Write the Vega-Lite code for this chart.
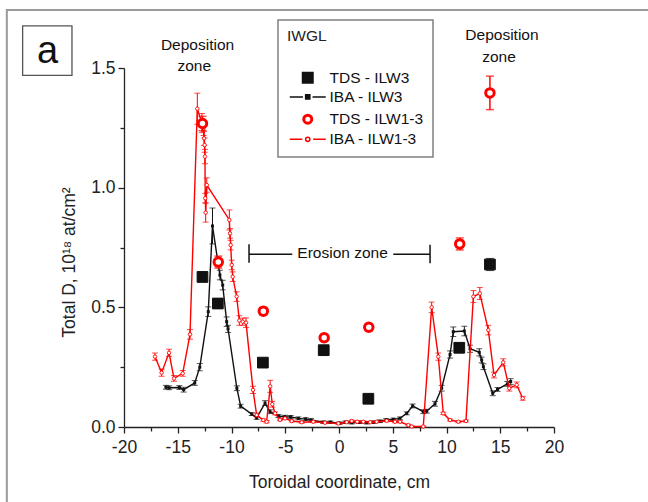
{
  "$schema": "https://vega.github.io/schema/vega-lite/v6.json",
  "width": 430,
  "height": 359,
  "autosize": {"type": "none"},
  "padding": {"left": 124, "top": 68, "right": 94, "bottom": 75},
  "background": "white",
  "config": {
    "font": "Liberation Sans",
    "view": {"stroke": null},
    "legend": {"strokeWidth": 1.5}
  },
  "datasets": {
    "iba3": [
      {"x": -16.1, "y": 0.166, "e": 0.008, "s": "IBA - ILW3"},
      {"x": -15.8, "y": 0.164, "e": 0.008, "s": "IBA - ILW3"},
      {"x": -14.85, "y": 0.165, "e": 0.008, "s": "IBA - ILW3"},
      {"x": -14.45, "y": 0.156, "e": 0.01, "s": "IBA - ILW3"},
      {"x": -13.42, "y": 0.184, "e": 0.01, "s": "IBA - ILW3"},
      {"x": -12.95, "y": 0.25, "e": 0.015, "s": "IBA - ILW3"},
      {"x": -12.16, "y": 0.482, "e": 0.02, "s": "IBA - ILW3"},
      {"x": -11.77, "y": 0.84, "e": 0.075, "s": "IBA - ILW3"},
      {"x": -11.08, "y": 0.635, "e": 0.02, "s": "IBA - ILW3"},
      {"x": -10.82, "y": 0.593, "e": 0.02, "s": "IBA - ILW3"},
      {"x": -10.45, "y": 0.44, "e": 0.02, "s": "IBA - ILW3"},
      {"x": -10.32, "y": 0.41, "e": 0.015, "s": "IBA - ILW3"},
      {"x": -9.5, "y": 0.162, "e": 0.01, "s": "IBA - ILW3"},
      {"x": -9.15, "y": 0.087, "e": 0.008, "s": "IBA - ILW3"},
      {"x": -8.12, "y": 0.054, "e": 0.006, "s": "IBA - ILW3"},
      {"x": -7.66, "y": 0.038, "e": 0.006, "s": "IBA - ILW3"},
      {"x": -6.88, "y": 0.1, "e": 0.01, "s": "IBA - ILW3"},
      {"x": -6.42, "y": 0.064, "e": 0.008, "s": "IBA - ILW3"},
      {"x": -5.64, "y": 0.046, "e": 0.006, "s": "IBA - ILW3"},
      {"x": -5.02, "y": 0.043, "e": 0.006, "s": "IBA - ILW3"},
      {"x": -4.5, "y": 0.042, "e": 0.006, "s": "IBA - ILW3"},
      {"x": -3.78, "y": 0.036, "e": 0.006, "s": "IBA - ILW3"},
      {"x": -3.1, "y": 0.033, "e": 0.006, "s": "IBA - ILW3"},
      {"x": -2.6, "y": 0.029, "e": 0.006, "s": "IBA - ILW3"},
      {"x": -1.46, "y": 0.02, "e": 0.005, "s": "IBA - ILW3"},
      {"x": -0.8, "y": 0.02, "e": 0.005, "s": "IBA - ILW3"},
      {"x": 0.05, "y": 0.016, "e": 0.005, "s": "IBA - ILW3"},
      {"x": 0.6, "y": 0.02, "e": 0.005, "s": "IBA - ILW3"},
      {"x": 1.18, "y": 0.018, "e": 0.005, "s": "IBA - ILW3"},
      {"x": 1.9, "y": 0.02, "e": 0.005, "s": "IBA - ILW3"},
      {"x": 2.58, "y": 0.018, "e": 0.005, "s": "IBA - ILW3"},
      {"x": 3.2, "y": 0.02, "e": 0.005, "s": "IBA - ILW3"},
      {"x": 3.81, "y": 0.024, "e": 0.005, "s": "IBA - ILW3"},
      {"x": 4.4, "y": 0.03, "e": 0.005, "s": "IBA - ILW3"},
      {"x": 5.05, "y": 0.032, "e": 0.005, "s": "IBA - ILW3"},
      {"x": 5.67, "y": 0.036, "e": 0.006, "s": "IBA - ILW3"},
      {"x": 6.3, "y": 0.057, "e": 0.006, "s": "IBA - ILW3"},
      {"x": 6.85, "y": 0.088, "e": 0.008, "s": "IBA - ILW3"},
      {"x": 7.84, "y": 0.064, "e": 0.008, "s": "IBA - ILW3"},
      {"x": 8.16, "y": 0.066, "e": 0.008, "s": "IBA - ILW3"},
      {"x": 8.93, "y": 0.097, "e": 0.01, "s": "IBA - ILW3"},
      {"x": 9.55, "y": 0.162, "e": 0.012, "s": "IBA - ILW3"},
      {"x": 10.33, "y": 0.303, "e": 0.015, "s": "IBA - ILW3"},
      {"x": 10.63, "y": 0.398, "e": 0.02, "s": "IBA - ILW3"},
      {"x": 11.66, "y": 0.401, "e": 0.02, "s": "IBA - ILW3"},
      {"x": 12.19, "y": 0.327, "e": 0.015, "s": "IBA - ILW3"},
      {"x": 13.05, "y": 0.312, "e": 0.015, "s": "IBA - ILW3"},
      {"x": 13.27, "y": 0.28, "e": 0.012, "s": "IBA - ILW3"},
      {"x": 13.43, "y": 0.252, "e": 0.012, "s": "IBA - ILW3"},
      {"x": 14.3, "y": 0.141, "e": 0.01, "s": "IBA - ILW3"},
      {"x": 14.75, "y": 0.157, "e": 0.008, "s": "IBA - ILW3"},
      {"x": 15.66, "y": 0.18, "e": 0.01, "s": "IBA - ILW3"},
      {"x": 15.97, "y": 0.19, "e": 0.012, "s": "IBA - ILW3"}
    ],
    "iba13": [
      {"x": -17.12, "y": 0.294, "e": 0.015, "s": "IBA - ILW1-3"},
      {"x": -16.5, "y": 0.227, "e": 0.015, "s": "IBA - ILW1-3"},
      {"x": -15.81, "y": 0.31, "e": 0.015, "s": "IBA - ILW1-3"},
      {"x": -15.35, "y": 0.203, "e": 0.012, "s": "IBA - ILW1-3"},
      {"x": -14.54, "y": 0.224, "e": 0.012, "s": "IBA - ILW1-3"},
      {"x": -13.86, "y": 0.387, "e": 0.02, "s": "IBA - ILW1-3"},
      {"x": -13.18, "y": 1.33, "e": 0.065, "s": "IBA - ILW1-3"},
      {"x": -12.75, "y": 1.27, "e": 0.04, "s": "IBA - ILW1-3"},
      {"x": -12.6, "y": 1.248, "e": 0.03, "s": "IBA - ILW1-3"},
      {"x": -12.55, "y": 1.206, "e": 0.03, "s": "IBA - ILW1-3"},
      {"x": -12.5, "y": 1.178, "e": 0.03, "s": "IBA - ILW1-3"},
      {"x": -12.47, "y": 1.13, "e": 0.03, "s": "IBA - ILW1-3"},
      {"x": -12.44, "y": 0.956, "e": 0.02, "s": "IBA - ILW1-3"},
      {"x": -12.4, "y": 0.896, "e": 0.04, "s": "IBA - ILW1-3"},
      {"x": -12.3, "y": 1.011, "e": 0.03, "s": "IBA - ILW1-3"},
      {"x": -10.2, "y": 0.865, "e": 0.042, "s": "IBA - ILW1-3"},
      {"x": -10.14, "y": 0.809, "e": 0.02, "s": "IBA - ILW1-3"},
      {"x": -10.08, "y": 0.76, "e": 0.02, "s": "IBA - ILW1-3"},
      {"x": -9.98, "y": 0.677, "e": 0.02, "s": "IBA - ILW1-3"},
      {"x": -9.89, "y": 0.628, "e": 0.02, "s": "IBA - ILW1-3"},
      {"x": -9.52, "y": 0.545, "e": 0.02, "s": "IBA - ILW1-3"},
      {"x": -9.27, "y": 0.445, "e": 0.02, "s": "IBA - ILW1-3"},
      {"x": -8.96, "y": 0.44, "e": 0.015, "s": "IBA - ILW1-3"},
      {"x": -8.65, "y": 0.436, "e": 0.02, "s": "IBA - ILW1-3"},
      {"x": -8.0, "y": 0.155, "e": 0.015, "s": "IBA - ILW1-3"},
      {"x": -7.66, "y": 0.05, "e": 0.008, "s": "IBA - ILW1-3"},
      {"x": -7.04, "y": 0.029, "e": 0.005, "s": "IBA - ILW1-3"},
      {"x": -6.73, "y": 0.022, "e": 0.005, "s": "IBA - ILW1-3"},
      {"x": -6.4, "y": 0.17, "e": 0.025, "s": "IBA - ILW1-3"},
      {"x": -6.2, "y": 0.095, "e": 0.012, "s": "IBA - ILW1-3"},
      {"x": -5.95, "y": 0.057, "e": 0.006, "s": "IBA - ILW1-3"},
      {"x": -5.49, "y": 0.03, "e": 0.004, "s": "IBA - ILW1-3"},
      {"x": -5.02, "y": 0.036, "e": 0.004, "s": "IBA - ILW1-3"},
      {"x": -4.4, "y": 0.025, "e": 0.004, "s": "IBA - ILW1-3"},
      {"x": -3.47, "y": 0.02, "e": 0.004, "s": "IBA - ILW1-3"},
      {"x": -2.39, "y": 0.022, "e": 0.004, "s": "IBA - ILW1-3"},
      {"x": -1.3, "y": 0.018, "e": 0.004, "s": "IBA - ILW1-3"},
      {"x": -0.06, "y": 0.015, "e": 0.004, "s": "IBA - ILW1-3"},
      {"x": 0.71, "y": 0.02, "e": 0.004, "s": "IBA - ILW1-3"},
      {"x": 1.18, "y": 0.025, "e": 0.004, "s": "IBA - ILW1-3"},
      {"x": 1.7, "y": 0.022, "e": 0.004, "s": "IBA - ILW1-3"},
      {"x": 2.26, "y": 0.022, "e": 0.004, "s": "IBA - ILW1-3"},
      {"x": 2.9, "y": 0.02, "e": 0.004, "s": "IBA - ILW1-3"},
      {"x": 3.5, "y": 0.022, "e": 0.004, "s": "IBA - ILW1-3"},
      {"x": 4.44, "y": 0.026, "e": 0.004, "s": "IBA - ILW1-3"},
      {"x": 5.21, "y": 0.022, "e": 0.004, "s": "IBA - ILW1-3"},
      {"x": 5.67, "y": 0.022, "e": 0.004, "s": "IBA - ILW1-3"},
      {"x": 6.45, "y": 0.008, "e": 0.003, "s": "IBA - ILW1-3"},
      {"x": 6.76, "y": 0.002, "e": 0.002, "s": "IBA - ILW1-3"},
      {"x": 7.84, "y": 0.002, "e": 0.002, "s": "IBA - ILW1-3"},
      {"x": 8.62, "y": 0.5, "e": 0.022, "s": "IBA - ILW1-3"},
      {"x": 9.24, "y": 0.294, "e": 0.015, "s": "IBA - ILW1-3"},
      {"x": 9.7, "y": 0.057, "e": 0.005, "s": "IBA - ILW1-3"},
      {"x": 10.33, "y": 0.029, "e": 0.004, "s": "IBA - ILW1-3"},
      {"x": 11.1, "y": 0.022, "e": 0.004, "s": "IBA - ILW1-3"},
      {"x": 11.81, "y": 0.025, "e": 0.004, "s": "IBA - ILW1-3"},
      {"x": 12.5, "y": 0.545, "e": 0.025, "s": "IBA - ILW1-3"},
      {"x": 13.1, "y": 0.558, "e": 0.025, "s": "IBA - ILW1-3"},
      {"x": 13.89, "y": 0.405, "e": 0.02, "s": "IBA - ILW1-3"},
      {"x": 14.42, "y": 0.217, "e": 0.012, "s": "IBA - ILW1-3"},
      {"x": 15.28, "y": 0.27, "e": 0.015, "s": "IBA - ILW1-3"},
      {"x": 15.84, "y": 0.162, "e": 0.012, "s": "IBA - ILW1-3"},
      {"x": 16.53, "y": 0.176, "e": 0.012, "s": "IBA - ILW1-3"},
      {"x": 17.09, "y": 0.12, "e": 0.008, "s": "IBA - ILW1-3"}
    ],
    "tds3": [
      {"x": -12.7, "y": 0.627, "e": 0.02, "s": "TDS - ILW3"},
      {"x": -11.27, "y": 0.516, "e": 0.02, "s": "TDS - ILW3"},
      {"x": -7.08, "y": 0.269, "e": 0.015, "s": "TDS - ILW3"},
      {"x": -1.42, "y": 0.321, "e": 0.015, "s": "TDS - ILW3"},
      {"x": 2.73, "y": 0.118, "e": 0.015, "s": "TDS - ILW3"},
      {"x": 11.19, "y": 0.331, "e": 0.02, "s": "TDS - ILW3"},
      {"x": 14.04, "y": 0.679, "e": 0.025, "s": "TDS - ILW3"}
    ],
    "tds13": [
      {"x": -12.7, "y": 1.268, "e": 0.03, "s": "TDS - ILW1-3"},
      {"x": -11.23, "y": 0.689, "e": 0.025, "s": "TDS - ILW1-3"},
      {"x": -7.04, "y": 0.484, "e": 0.015, "s": "TDS - ILW1-3"},
      {"x": -1.38, "y": 0.373, "e": 0.015, "s": "TDS - ILW1-3"},
      {"x": 2.77, "y": 0.417, "e": 0.015, "s": "TDS - ILW1-3"},
      {"x": 11.23, "y": 0.765, "e": 0.025, "s": "TDS - ILW1-3"},
      {"x": 14.04, "y": 1.396, "e": 0.07, "s": "TDS - ILW1-3"}
    ],
    "labels": [
      {"x": -13.16, "y": 1.574, "t": "Deposition"},
      {"x": -13.47, "y": 1.488, "t": "zone"},
      {"x": 15.16, "y": 1.615, "t": "Deposition"},
      {"x": 14.88, "y": 1.527, "t": "zone"},
      {"x": 0.33, "y": 0.705, "t": "Erosion zone"}
    ],
    "bracket": [
      {"x": -8.37, "x2": -4.35, "y": 0.722, "y2": 0.722},
      {"x": 5.05, "x2": 8.47, "y": 0.722, "y2": 0.722},
      {"x": -8.37, "x2": -8.37, "y": 0.764, "y2": 0.686},
      {"x": 8.47, "x2": 8.47, "y": 0.762, "y2": 0.684}
    ],
    "frame": [
      {"x": -30.9, "x2": 29.5, "y": 1.742, "y2": -0.35}
    ],
    "panel": [
      {"x": -29.43, "x2": -24.84, "y": 1.676, "y2": 1.469}
    ],
    "panelLabel": [
      {"x": -27.12, "y": 1.521, "t": "a"}
    ]
  },
  "encoding": {
    "x": {
      "field": "x",
      "type": "quantitative",
      "scale": {"domain": [-20, 20], "nice": false, "zero": false},
      "title": "Toroidal coordinate, cm",
      "axis": {
        "values": [-20, -17.5, -15, -12.5, -10, -7.5, -5, -2.5, 0, 2.5, 5, 7.5, 10, 12.5, 15, 17.5, 20],
        "labelExpr": "datum.value % 5 === 0 ? ('' + datum.value) : ''",
        "tickSize": {"condition": {"test": "datum.value % 5 === 0", "value": 6}, "value": 4},
        "grid": false,
        "domainColor": "#222",
        "domainWidth": 1.3,
        "tickColor": "#222",
        "tickWidth": 1.3,
        "labelFontSize": 17.5,
        "labelColor": "#222",
        "labelPadding": 5,
        "labelFlush": false,
        "titleFontSize": 17.5,
        "titleFontWeight": "normal",
        "titleColor": "#222",
        "titleY": 60,
        "titleBaseline": "alphabetic"
      }
    },
    "y": {
      "field": "y",
      "type": "quantitative",
      "scale": {"domain": [0, 1.5], "nice": false},
      "title": "Total D, 10¹⁸ at/cm²",
      "axis": {
        "values": [0, 0.25, 0.5, 0.75, 1, 1.25, 1.5],
        "labelExpr": "datum.value % 0.5 === 0 ? format(datum.value, '.1f') : ''",
        "tickSize": {"condition": {"test": "datum.value % 0.5 === 0", "value": 6}, "value": 4},
        "grid": false,
        "domainColor": "#222",
        "domainWidth": 1.3,
        "tickColor": "#222",
        "tickWidth": 1.3,
        "labelFontSize": 17.5,
        "labelColor": "#222",
        "labelPadding": 3,
        "labelFlush": false,
        "titleFontSize": 17.5,
        "titleFontWeight": "normal",
        "titleColor": "#222",
        "titleX": -50,
        "titleY": 194,
        "titleAngle": -90,
        "titleAlign": "center",
        "titleBaseline": "alphabetic"
      }
    }
  },
  "layer": [
    {
      "data": {"name": "frame"},
      "mark": {"type": "rect", "fillOpacity": 0, "stroke": "#9a9a9a", "strokeWidth": 2, "clip": false},
      "encoding": {"x2": {"field": "x2"}, "y2": {"field": "y2"}}
    },
    {
      "data": {"name": "panel"},
      "mark": {"type": "rect", "fillOpacity": 0, "stroke": "#555", "strokeWidth": 1.3, "clip": false},
      "encoding": {"x2": {"field": "x2"}, "y2": {"field": "y2"}}
    },
    {
      "data": {"name": "panelLabel"},
      "mark": {"type": "text", "fontSize": 38, "color": "#111", "baseline": "alphabetic", "align": "center", "clip": false},
      "encoding": {"text": {"field": "t"}}
    },
    {
      "data": {"name": "iba3"},
      "mark": {"type": "errorbar", "ticks": {"size": 6, "color": "#111"}, "color": "#111", "thickness": 1},
      "encoding": {"yError": {"field": "e"}}
    },
    {
      "data": {"name": "iba3"},
      "mark": {"type": "line", "strokeWidth": 1.4},
      "encoding": {
        "color": {
          "field": "s",
          "type": "nominal",
          "scale": {"domain": ["TDS - ILW3", "IBA - ILW3", "TDS - ILW1-3", "IBA - ILW1-3"], "range": ["#111111", "#111111", "#ff0000", "#ff0000"]},
          "legend": {
            "title": "IWGL",
            "orient": "none",
            "legendX": 154,
            "legendY": -48,
            "padding": 9,
            "strokeColor": "#808080",
            "fillColor": "white",
            "titleFontSize": 15.5,
            "titleFontWeight": "normal",
            "titleColor": "#222",
            "titlePadding": 25.5,
            "labelFontSize": 15.5,
            "labelColor": "#111",
            "rowPadding": 2.2,
            "symbolOffset": 13,
            "labelOffset": 14,
            "encode": {
              "symbols": {
                "update": {
                  "shape": {"signal": "datum.value === 'TDS - ILW3' ? 'square' : datum.value === 'TDS - ILW1-3' ? 'circle' : datum.value === 'IBA - ILW3' ? 'M-3,0H-0.8M0.8,0H3M-0.35,-0.35H0.35V0.35H-0.35Z' : 'M-3,0H-0.9M0.9,0H3M0.35,0A0.35,0.35 0 1 1 -0.35,0A0.35,0.35 0 1 1 0.35,0Z'"},
                  "size": {"signal": "datum.value === 'TDS - ILW3' ? 110 : datum.value === 'TDS - ILW1-3' ? 64 : 144"},
                  "stroke": {"signal": "indexof(datum.value, 'ILW1-3') >= 0 ? '#ff0000' : '#111111'"},
                  "strokeWidth": {"signal": "datum.value === 'TDS - ILW1-3' ? 3 : 1.5"},
                  "opacity": {"value": 1}
                }
              }
            }
          }
        }
      }
    },
    {
      "data": {"name": "iba3"},
      "mark": {"type": "point", "shape": "square", "size": 9, "filled": true, "color": "#111", "opacity": 1}
    },
    {
      "data": {"name": "iba13"},
      "mark": {"type": "errorbar", "ticks": {"size": 6, "color": "#ff0000"}, "color": "#ff0000", "thickness": 1},
      "encoding": {"yError": {"field": "e"}}
    },
    {
      "data": {"name": "iba13"},
      "mark": {"type": "line", "strokeWidth": 1.4},
      "encoding": {"color": {"field": "s", "type": "nominal"}}
    },
    {
      "data": {"name": "iba13"},
      "mark": {"type": "point", "shape": "circle", "size": 12, "filled": false, "fill": "white", "fillOpacity": 1, "stroke": "#ff0000", "strokeWidth": 0.9, "opacity": 1}
    },
    {
      "data": {"name": "tds3"},
      "mark": {"type": "errorbar", "ticks": {"size": 8, "color": "#111"}, "color": "#111", "thickness": 1.2},
      "encoding": {"yError": {"field": "e"}}
    },
    {
      "data": {"name": "tds3"},
      "mark": {"type": "point", "shape": "square", "size": 115, "filled": false, "opacity": 1, "fillOpacity": 1, "strokeWidth": 1},
      "encoding": {
        "color": {"field": "s", "type": "nominal"},
        "fill": {"field": "s", "type": "nominal", "scale": {"domain": ["TDS - ILW3", "IBA - ILW3", "TDS - ILW1-3", "IBA - ILW1-3"], "range": ["#111111", "#111111", "#ffffff", "#ffffff"]}}
      }
    },
    {
      "data": {"name": "tds13"},
      "mark": {"type": "errorbar", "ticks": {"size": 8, "color": "#ff0000"}, "color": "#ff0000", "thickness": 1.5},
      "encoding": {"yError": {"field": "e"}}
    },
    {
      "data": {"name": "tds13"},
      "mark": {"type": "point", "shape": "circle", "size": 72, "filled": false, "fillOpacity": 1, "strokeWidth": 3, "opacity": 1},
      "encoding": {
        "color": {"field": "s", "type": "nominal"},
        "fill": {"field": "s", "type": "nominal"}
      }
    },
    {
      "data": {"name": "labels"},
      "mark": {"type": "text", "fontSize": 15.5, "color": "#111", "baseline": "alphabetic", "align": "center", "clip": false},
      "encoding": {"text": {"field": "t"}}
    },
    {
      "data": {"name": "bracket"},
      "mark": {"type": "rule", "color": "#111", "strokeWidth": 1.5},
      "encoding": {"x2": {"field": "x2"}, "y2": {"field": "y2"}}
    }
  ]
}
